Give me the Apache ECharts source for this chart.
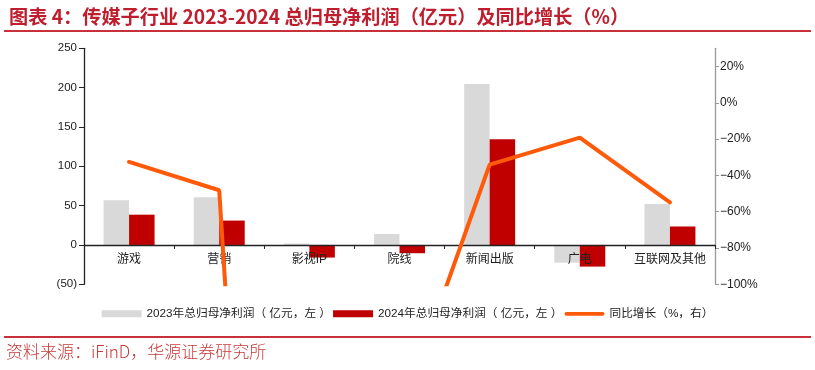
<!DOCTYPE html>
<html><head><meta charset="utf-8">
<script src="https://cdn.jsdelivr.net/npm/echarts@6/dist/echarts.min.js"></script>
<style>html,body{margin:0;padding:0;background:#fff}#c{width:815px;height:370px}</style>
</head><body><div id="c"></div>
<script>
const categories = ['游戏', '营销', '影视IP', '院线', '新闻出版', '广电', '互联网及其他'];
const profit2023 = [57, 60.5, 1.8, 14, 204.5, -22.5, 52];
const profit2024 = [38.5, 31, -16, -10.5, 134.5, -27.5, 23.5];
const yoyGrowth = [-32.6, -48.2, -830, -173.5, -34.1, -19.2, -54.9];
const rightTicks = [-100, -80, -60, -40, -20, 0, 20];
const seriesNames = ['2023年总归母净利润（ 亿元，左 ）', '2024年总归母净利润（ 亿元，左 ）', '同比增长（%，右）'];
const titleText = '图表 4：传媒子行业 2023-2024 总归母净利润（亿元）及同比增长（%）';
const sourceText = '资料来源：iFinD，华源证券研究所';

const FONT = '"Liberation Sans", Arial, "Noto Sans CJK SC", sans-serif';
const GRID_TOP = 48.3, GRID_BOTTOM = 85.7;
const LEFT_MIN = -50, LEFT_MAX = 250;
const plotH = 370 - GRID_TOP - GRID_BOTTOM;
const zeroOffset = plotH * (0 - LEFT_MIN) / (LEFT_MAX - LEFT_MIN);

const chart = echarts.init(document.getElementById('c'), null, {renderer: 'canvas'});
chart.setOption({
  animation: false,
  backgroundColor: '#fff',
  textStyle: {fontFamily: FONT},
  title: {
    text: titleText, left: 4, top: 2,
    textStyle: {color: '#BE1E2D', fontSize: 19.2, fontWeight: 'bold', fontFamily: '"Noto Sans CJK SC", sans-serif'}
  },
  graphic: [
    {type: 'rect', shape: {x: 4, y: 30, width: 807, height: 2}, style: {fill: '#C8303A'}},
    {type: 'rect', shape: {x: 4, y: 336, width: 807, height: 2}, style: {fill: '#C8303A'}},
    {type: 'text', left: 6, top: 343, style: {text: sourceText, fill: '#C83A3A', font: '300 17px "Noto Sans CJK SC", sans-serif'}}
  ],
  legend: {
    top: 303, left: 'center', itemGap: 2,
    textStyle: {fontSize: 11.7, color: '#222', fontFamily: FONT},
    data: [
      {name: seriesNames[0], icon: 'rect'},
      {name: seriesNames[1], icon: 'rect'},
      {name: seriesNames[2], icon: 'path://M2,0 L40,0 A2,2 0 0 1 40,4 L2,4 A2,2 0 0 1 2,0 Z'}
    ],
    itemWidth: 40, itemHeight: 7
  },
  grid: {left: 84, right: 100, top: GRID_TOP, bottom: GRID_BOTTOM, containLabel: false},
  xAxis: {
    type: 'category', data: categories, boundaryGap: true, position: 'bottom',
    offset: -zeroOffset, z: 10,
    axisLine: {onZero: false, lineStyle: {color: '#222', width: 1.3}},
    axisTick: {show: true, length: 4, lineStyle: {color: '#222'}},
    axisLabel: {color: '#222', fontSize: 12, margin: 9, interval: 0, fontFamily: FONT}
  },
  yAxis: [
    {
      type: 'value', min: LEFT_MIN, max: LEFT_MAX, interval: 50, position: 'left',
      splitLine: {show: false},
      axisLine: {show: true, lineStyle: {color: '#222', width: 1.3}},
      axisTick: {show: true, length: 5, inside: false, lineStyle: {color: '#222'}},
      axisLabel: {color: '#222', fontSize: 11.5, margin: 7, formatter: v => v < 0 ? '(' + Math.abs(v) + ')' : String(v)}
    },
    {
      type: 'value', min: -100, max: 30, position: 'right',
      splitLine: {show: false},
      axisLine: {show: true, lineStyle: {color: '#999', width: 1.3}},
      axisTick: {show: true, length: 4, lineStyle: {color: '#999'}, customValues: rightTicks},
      axisLabel: {color: '#222', fontSize: 12, margin: 5, customValues: rightTicks,
        formatter: v => (v < 0 ? '\u2212' + Math.abs(v) : String(v)) + '%'}
    }
  ],
  series: [
    {name: seriesNames[0], type: 'bar', z: 1, data: profit2023, barWidth: 25.5, barGap: '0%', itemStyle: {color: '#D9D9D9'}, yAxisIndex: 0},
    {name: seriesNames[1], type: 'bar', z: 1, data: profit2024, barWidth: 25.5, barGap: '0%', itemStyle: {color: '#C00000'}, yAxisIndex: 0},
    {name: seriesNames[2], type: 'line', data: yoyGrowth, yAxisIndex: 1, showSymbol: false, symbol: 'none', clip: true,
      lineStyle: {color: '#FF5A0A', width: 4, cap: 'round'}, itemStyle: {color: '#FF5A0A'}, z: 12}
  ]
});
</script></body></html>
